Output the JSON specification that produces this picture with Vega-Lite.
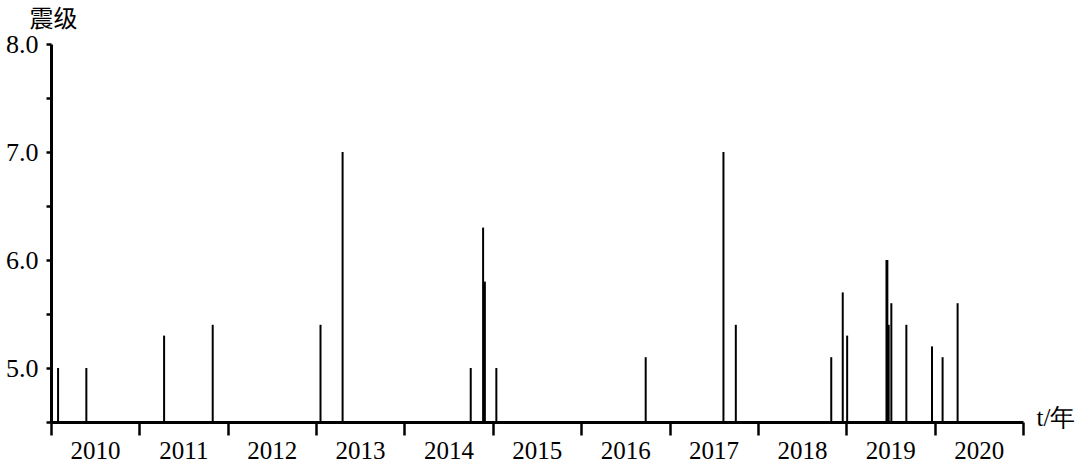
{
  "$schema": "https://vega.github.io/schema/vega-lite/v6.json",
  "width": 972,
  "height": 378,
  "autosize": "none",
  "padding": {"left": 51, "top": 44, "right": 57, "bottom": 49},
  "background": "white",
  "config": {"view": {"stroke": null}},
  "data": {
    "values": [
      {"t": 2010.08, "mag": 5.0},
      {"t": 2010.40, "mag": 5.0},
      {"t": 2011.28, "mag": 5.3},
      {"t": 2011.83, "mag": 5.4},
      {"t": 2013.05, "mag": 5.4},
      {"t": 2013.30, "mag": 7.0},
      {"t": 2014.75, "mag": 5.0},
      {"t": 2014.89, "mag": 6.3},
      {"t": 2014.91, "mag": 5.8},
      {"t": 2015.04, "mag": 5.0},
      {"t": 2016.73, "mag": 5.1},
      {"t": 2017.61, "mag": 7.0},
      {"t": 2017.75, "mag": 5.4},
      {"t": 2018.83, "mag": 5.1},
      {"t": 2018.96, "mag": 5.7},
      {"t": 2019.01, "mag": 5.3},
      {"t": 2019.455, "mag": 6.0},
      {"t": 2019.465, "mag": 6.0},
      {"t": 2019.48, "mag": 5.4},
      {"t": 2019.51, "mag": 5.6},
      {"t": 2019.68, "mag": 5.4},
      {"t": 2019.97, "mag": 5.2},
      {"t": 2020.09, "mag": 5.1},
      {"t": 2020.26, "mag": 5.6}
    ]
  },
  "mark": {"type": "rule", "color": "black", "strokeWidth": 2},
  "encoding": {
    "x": {
      "field": "t",
      "type": "quantitative",
      "scale": {"domain": [2010, 2021], "nice": false, "zero": false},
      "axis": {
        "values": [2010, 2011, 2012, 2013, 2014, 2015, 2016, 2017, 2018, 2019, 2020, 2021],
        "labelExpr": "datum.value < 2021 ? format(datum.value, 'd') : ''",
        "labelOffset": 44,
        "labelFont": "Times New Roman, Liberation Serif, serif",
        "labelFontSize": 25,
        "labelColor": "black",
        "labelPadding": 3,
        "labelFlush": false,
        "labelOverlap": false,
        "tickSize": 13,
        "tickWidth": 2.5,
        "tickColor": "black",
        "domainColor": "black",
        "domainWidth": 3,
        "grid": false,
        "title": "t/年",
        "titleFont": "Times New Roman, Liberation Serif, serif",
        "titleFontSize": 25,
        "titleFontWeight": "normal",
        "titleColor": "black",
        "titleAnchor": null,
        "titleAlign": "left",
        "titleBaseline": "bottom",
        "titleX": 985,
        "titleY": 8
      }
    },
    "y": {
      "field": "mag",
      "type": "quantitative",
      "scale": {"domain": [4.5, 8], "nice": false, "zero": false},
      "axis": {
        "values": [4.5, 5, 5.5, 6, 6.5, 7, 7.5, 8],
        "labelExpr": "datum.value % 1 === 0 ? format(datum.value, '.1f') : ''",
        "labelFont": "Times New Roman, Liberation Serif, serif",
        "labelFontSize": 26,
        "labelColor": "black",
        "labelPadding": 8,
        "labelFlush": false,
        "labelOverlap": false,
        "tickSize": 5,
        "tickWidth": 2.5,
        "tickColor": "black",
        "domainColor": "black",
        "domainWidth": 3,
        "grid": false,
        "title": "震级",
        "titleFont": "Noto Sans CJK SC",
        "titleFontSize": 24,
        "titleFontWeight": "normal",
        "titleColor": "black",
        "titleAngle": 0,
        "titleAnchor": null,
        "titleAlign": "center",
        "titleBaseline": "middle",
        "titleX": 2,
        "titleY": -25
      }
    },
    "y2": {"datum": 4.5}
  }
}
